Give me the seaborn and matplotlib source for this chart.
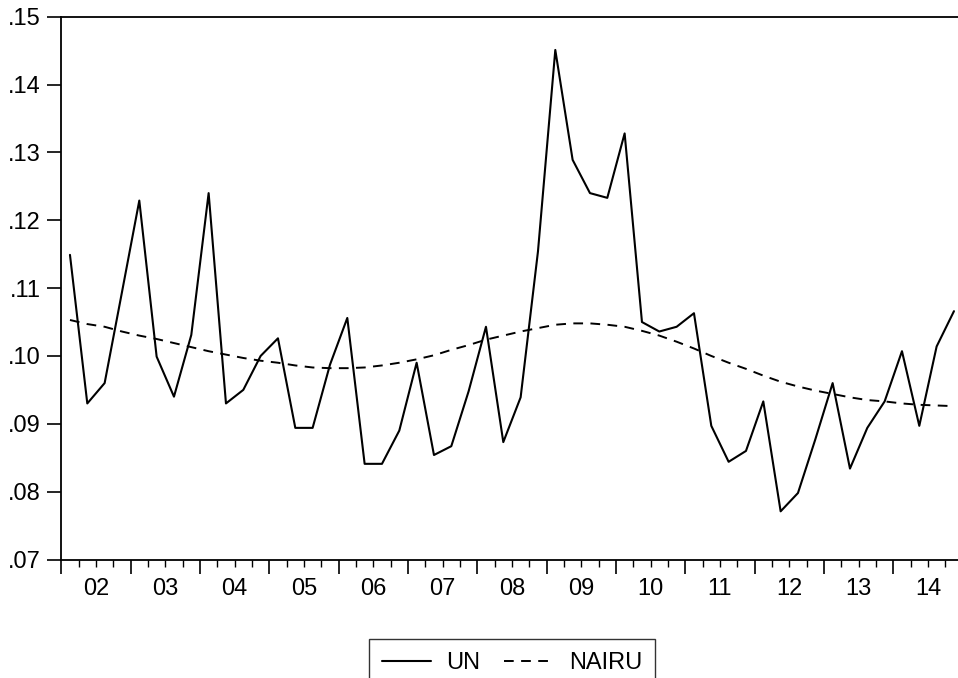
import numpy as np
import pandas as pd
import matplotlib
matplotlib.use("Agg")
import matplotlib.pyplot as plt
import seaborn as sns
from matplotlib.ticker import FixedLocator, NullFormatter

# ---- data (quarterly, 2002Q1 .. 2014Q4) ----
quarters = [f"{y}Q{q}" for y in range(2002, 2015) for q in range(1, 5)]

un = [0.1149, 0.0930, 0.0960, 0.1094, 0.1229, 0.0999, 0.0940, 0.1031,
      0.1240, 0.0930, 0.0950, 0.1000, 0.1026, 0.0894, 0.0894, 0.0987,
      0.1056, 0.0841, 0.0841, 0.0890, 0.0990, 0.0854, 0.0867, 0.0948,
      0.1043, 0.0873, 0.0939, 0.1154, 0.1451, 0.1289, 0.1240, 0.1233,
      0.1328, 0.1050, 0.1036, 0.1043, 0.1063, 0.0897, 0.0844, 0.0860,
      0.0933, 0.0771, 0.0798, 0.0877, 0.0960, 0.0834, 0.0894, 0.0933,
      0.1007, 0.0897, 0.1014, 0.1066]

nairu = [0.1053, 0.1047, 0.1043, 0.1036, 0.1030, 0.1025, 0.1019, 0.1013,
         0.1007, 0.1002, 0.0997, 0.0993, 0.0990, 0.0986, 0.0983, 0.0982,
         0.0982, 0.0983, 0.0986, 0.0990, 0.0995, 0.1001, 0.1009, 0.1016,
         0.1024, 0.1030, 0.1036, 0.1041, 0.1046, 0.1048, 0.1048, 0.1046,
         0.1043, 0.1037, 0.1030, 0.1021, 0.1011, 0.1000, 0.0990, 0.0981,
         0.0971, 0.0962, 0.0955, 0.0949, 0.0944, 0.0939, 0.0935, 0.0933,
         0.0930, 0.0928, 0.0927, 0.0926]

year_labels = ["02", "03", "04", "05", "06", "07", "08", "09",
               "10", "11", "12", "13", "14"]
y_ticks = [0.07, 0.08, 0.09, 0.10, 0.11, 0.12, 0.13, 0.14, 0.15]
y_tick_labels = [".07", ".08", ".09", ".10", ".11", ".12", ".13", ".14", ".15"]

df = pd.DataFrame({"t": np.arange(len(quarters)), "quarter": quarters,
                   "UN": un, "NAIRU": nairu})

# ---- style ----
sns.set_theme(style="white")
plt.rcParams["font.family"] = ["Liberation Sans", "DejaVu Sans"]
FS = 17

fig = plt.figure(figsize=(9.58, 6.78), dpi=100)
W, H = 958, 678
left_px, right_px, top_px, bottom_px = 61.3, 958.0, 16.7, 559.5
ax = fig.add_axes([left_px / W, 1 - bottom_px / H,
                   (right_px - left_px) / W, (bottom_px - top_px) / H])

sns.lineplot(data=df, x="t", y="UN", ax=ax, color="black", linewidth=1.5,
             label="UN")
sns.lineplot(data=df, x="t", y="NAIRU", ax=ax, color="black", linewidth=1.4,
             linestyle=(0, (5, 3.8)), label="NAIRU")
if ax.get_legend() is not None:
    ax.get_legend().remove()

n = len(quarters)
ax.set_xlim(-0.5, -0.5 + (right_px - left_px) / ((954.0 - 70.0) / (n - 1)))
ax.set_ylim(0.07, 0.15)

# y axis
ax.set_yticks(y_ticks)
ax.set_yticklabels(y_tick_labels, fontsize=FS)
ax.tick_params(axis="y", which="major", direction="out", length=10,
               width=1.2, color="black", pad=5, left=True, labelcolor="black")

# x axis: year boundaries (major), quarter boundaries (minor)
n_years = len(year_labels)
year_bounds = [-0.5 + 4 * k for k in range(n_years + 1)]
quarter_bounds = [-0.5 + q for q in range(n + 1) if q % 4 != 0]
ax.xaxis.set_major_locator(FixedLocator(year_bounds))
ax.xaxis.set_minor_locator(FixedLocator(quarter_bounds))
ax.xaxis.set_major_formatter(NullFormatter())
ax.xaxis.set_minor_formatter(NullFormatter())
ax.tick_params(axis="x", which="major", direction="out", length=10,
               width=1.2, color="black", bottom=True)
ax.tick_params(axis="x", which="minor", direction="out", length=5,
               width=1.0, color="black", bottom=True)

# year labels centred in each year
sec = ax.secondary_xaxis("bottom")
sec.set_xticks([1.5 + 4 * k for k in range(n_years)])
sec.set_xticklabels(year_labels, fontsize=FS)
sec.tick_params(axis="x", length=0, pad=13, labelcolor="black")
sec.spines["bottom"].set_visible(False)

ax.set_xlabel("")
ax.set_ylabel("")
for side in ["left", "top", "bottom"]:
    ax.spines[side].set_visible(True)
    ax.spines[side].set_color("black")
    ax.spines[side].set_linewidth(1.3)
ax.spines["right"].set_visible(False)
ax.grid(False)

# legend below the plot
handles = ax.get_lines()[:2]
leg = fig.legend(handles, ["UN", "NAIRU"], loc="upper center",
                 bbox_to_anchor=(512 / W, 1 - 639 / H), ncol=2, frameon=True,
                 fancybox=False, fontsize=FS, handlelength=2.1,
                 handletextpad=0.65, columnspacing=1.0, borderpad=0.55,
                 borderaxespad=0)
leg.get_frame().set_edgecolor("black")
leg.get_frame().set_linewidth(1.0)
for t in leg.get_texts():
    t.set_color("black")

fig.savefig("out.png", dpi=100)
